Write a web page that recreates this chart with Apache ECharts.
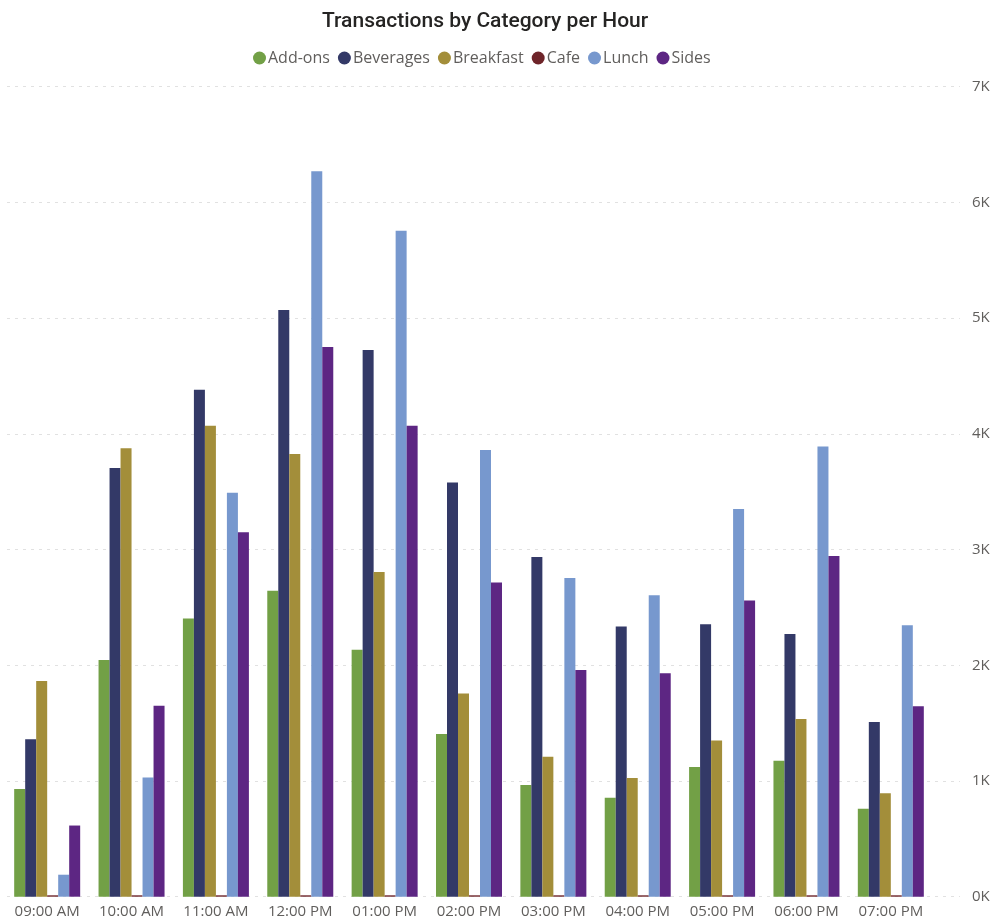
<!DOCTYPE html>
<html>
<head>
<meta charset="utf-8">
<script src="https://cdn.jsdelivr.net/npm/echarts@6/dist/echarts.min.js"></script>
<style>
  html, body { margin: 0; padding: 0; background: #ffffff; }
  #chart { width: 993px; height: 922px; }
</style>
</head>
<body>
<div id="chart"></div>
<script>
// Hourly transaction counts per menu category
const hours = ['09:00 AM', '10:00 AM', '11:00 AM', '12:00 PM', '01:00 PM', '02:00 PM',
               '03:00 PM', '04:00 PM', '05:00 PM', '06:00 PM', '07:00 PM'];
const addOns    = [930, 2045, 2405, 2645, 2135, 1405, 965, 855, 1120, 1175, 760];
const beverages = [1360, 3705, 4380, 5070, 4725, 3580, 2935, 2335, 2355, 2270, 1510];
const breakfast = [1865, 3875, 4070, 3825, 2805, 1755, 1210, 1025, 1350, 1535, 895];
const cafe      = [12, 12, 12, 12, 12, 12, 12, 12, 12, 12, 12];
const lunch     = [190, 1030, 3490, 6270, 5755, 3860, 2755, 2605, 3350, 3890, 2345];
const sides     = [615, 1650, 3150, 4750, 4070, 2715, 1960, 1930, 2560, 2945, 1645];
const yTicks    = [0, 1000, 2000, 3000, 4000, 5000, 6000, 7000];

const seriesDefs = [
  { name: 'Add-ons',   data: addOns,    color: '#72A046' },
  { name: 'Beverages', data: beverages, color: '#333967' },
  { name: 'Breakfast', data: breakfast, color: '#A38E3A' },
  { name: 'Cafe',      data: cafe,      color: '#6E2429' },
  { name: 'Lunch',     data: lunch,     color: '#7798CE' },
  { name: 'Sides',     data: sides,     color: '#5D2683' }
];

const labelColor = '#605E5C';
const font = '"Open Sans", "Noto Sans", sans-serif';
const yMax = yTicks[yTicks.length - 1];
const yStep = yTicks[1] - yTicks[0];

const chart = echarts.init(document.getElementById('chart'), null, { renderer: 'canvas' });

chart.setOption({
  animation: false,
  backgroundColor: '#ffffff',
  title: {
    text: 'Transactions by Category per Hour',
    left: 317,
    top: 6,
    textStyle: { fontFamily: 'Roboto, sans-serif', fontSize: 21, fontWeight: 500, color: '#252423' }
  },
  legend: {
    top: 45,
    left: 248,
    icon: 'circle',
    itemWidth: 13,
    itemHeight: 13,
    itemGap: 8,
    textStyle: { fontFamily: font, fontSize: 16, color: labelColor, padding: [0, 0, 0, -3] },
    data: seriesDefs.map(s => s.name)
  },
  grid: [
    { left: 5, right: 60, top: 86.7, bottom: 25.3 },
    { left: 7, right: 33, top: 86.7, bottom: 25.3 }
  ],
  xAxis: [
    {
      type: 'category', gridIndex: 0, data: hours,
      axisLine: { show: false }, axisTick: { show: false },
      axisLabel: { fontFamily: font, fontSize: 15, color: labelColor, margin: 8, interval: 0 }
    },
    { type: 'value', gridIndex: 1, show: false, min: 0, max: 1 }
  ],
  yAxis: [
    { type: 'value', gridIndex: 0, min: 0, max: yMax, interval: yStep, show: false },
    {
      type: 'value', gridIndex: 1, position: 'right', min: 0, max: yMax, interval: yStep,
      axisLine: { show: false }, axisTick: { show: false },
      splitLine: { show: true, lineStyle: { color: '#E1E1E1', width: 1, type: [3, 5] } },
      axisLabel: {
        fontFamily: font, fontSize: 15, color: labelColor, margin: 12,
        formatter: v => (v / 1000) + 'K'
      }
    }
  ],
  series: seriesDefs.map(s => ({
    name: s.name,
    type: 'bar',
    xAxisIndex: 0,
    yAxisIndex: 0,
    barWidth: 11,
    barGap: '0%',
    itemStyle: { color: s.color },
    data: s.data
  }))
});
</script>
</body>
</html>
